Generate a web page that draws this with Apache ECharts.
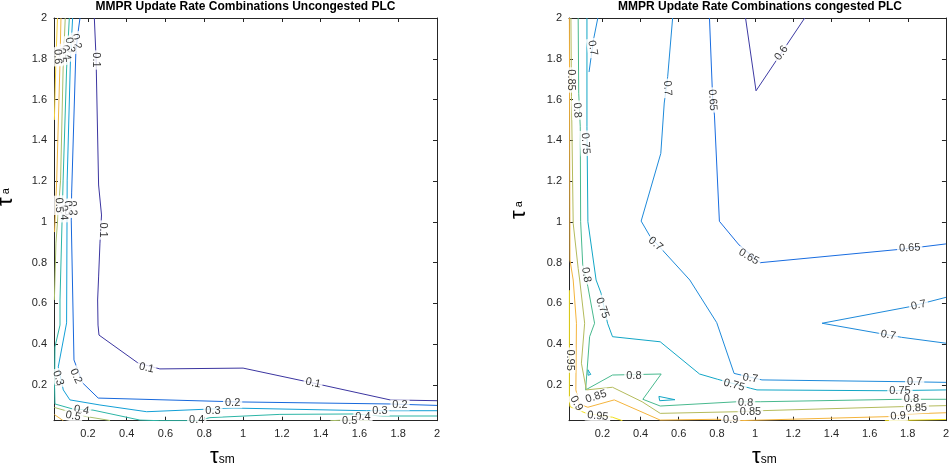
<!DOCTYPE html>
<html><head><meta charset="utf-8">
<script src="https://cdn.jsdelivr.net/npm/echarts@6/dist/echarts.min.js"></script>
<style>html,body{margin:0;padding:0;background:#fff}#c{width:952px;height:475px}</style>
</head><body><div id="c"></div>
<script>
// ---------- axis ticks ----------
const xTicks = [0.2,0.4,0.6,0.8,1,1.2,1.4,1.6,1.8,2];
const yTicks = [0.2,0.4,0.6,0.8,1,1.2,1.4,1.6,1.8,2];
const axisMin = 0.025, axisMax = 2;

const titleLeft = 'MMPR Update Rate Combinations Uncongested PLC';
const titleRight = 'MMPR Update Rate Combinations congested PLC';

// ---------- LEFT: uncongested contour lines [tau_sm, tau_a] ----------
const U01 = [[0.233,2],[0.242,1.80],[0.255,1.181],[0.270,1.034],[0.262,0.896],[0.255,0.730],[0.250,0.617],[0.252,0.494],[0.257,0.445],[0.458,0.308],[0.571,0.279],[1.0,0.283],[1.36,0.210],[1.758,0.127],[2,0.123]];
const U02 = [[0.159,2],[0.152,1.951],[0.138,1.843],[0.116,1.142],[0.114,1.009],[0.128,0.323],[0.173,0.210],[0.253,0.136],[0.984,0.117],[1.757,0.107],[2,0.100]];
const U03 = [[0.121,2],[0.110,1.80],[0.093,1.205],[0.090,0.505],[0.047,0.289],[0.073,0.176],[0.107,0.127],[0.262,0.102],[0.503,0.069],[0.948,0.087],[1.637,0.074],[2,0.074]];
const U04 = [[0.104,2],[0.090,1.75],[0.072,1.205],[0.056,0.617],[0.056,0.494],[0.030,0.387],[0.028,0.20],[0.030,0.107],[0.123,0.082],[0.226,0.077],[0.468,0.028],[0.571,0.025],[0.761,0.025],[0.829,0.040],[1.190,0.056],[1.567,0.058],[1.722,0.048],[2,0.048]];
const U05a = [[0.083,2],[0.072,1.75],[0.059,1.205],[0.035,0.896],[0.027,0.617]];
const U05b = [[0.027,0.09],[0.030,0.082],[0.193,0.045],[0.314,0.026]];
const U05c = [[1.45,0.025],[1.55,0.029],[1.65,0.025]];
const U06a = [[0.061,2],[0.055,1.75],[0.039,1.205],[0.028,0.95]];
const U06b = [[0.027,0.055],[0.073,0.025]];
const U07 = [[0.043,2],[0.035,1.80],[0.027,1.5]];
const uLines = [[0.1,U01],[0.2,U02],[0.3,U03],[0.4,U04],[0.5,U05a],[0.5,U05b],[0.5,U05c],[0.6,U06a],[0.6,U06b],[0.7,U07]];
// contour labels: [tau_sm, tau_a, text, angle]
const uLabels = [
  [0.242,1.794,'0.1',-90],[0.277,0.960,'0.1',-90],[0.502,0.284,'0.1',-12],[1.361,0.210,'0.1',-12],
  [0.140,1.885,'0.2',-78],[0.121,1.067,'0.2',-88],[0.138,0.244,'0.2',-65],[0.946,0.113,'0.2',0],[1.809,0.102,'0.2',0],
  [0.107,1.867,'0.3',-80],[0.097,1.067,'0.3',-88],[0.047,0.234,'0.3',-72],[0.845,0.073,'0.3',0],[1.706,0.074,'0.3',0],
  [0.087,1.830,'0.4',-80],[0.075,1.045,'0.4',-88],[0.167,0.077,'0.4',-10],[0.761,0.030,'0.4',0],[1.618,0.043,'0.4',0],
  [0.066,1.815,'0.5',-85],[0.051,1.082,'0.5',-88],[0.124,0.048,'0.5',-12],[1.55,0.025,'0.5',0],
  [0.044,1.810,'0.6',-88]
];

// ---------- RIGHT: congested contour lines ----------
const C060 = [[0.950,2],[1.005,1.643],[1.260,2]];
const C065 = [[0.761,2],[0.778,1.598],[0.787,1.524],[0.813,1.003],[0.916,0.887],[1.027,0.800],[1.810,0.870],[2.0,0.892]];
const C070a = [[0.176,2],[0.153,1.892],[0.130,1.735]];
const C070b = [[0.568,2],[0.542,1.712],[0.524,1.583],[0.506,1.336],[0.403,1.004],[0.451,0.927],[0.658,0.715],[0.799,0.506],[0.890,0.257],[1.036,0.225],[1.802,0.216],[2.0,0.213]];
const C070c = [[2.0,0.630],[1.810,0.584],[1.351,0.503],[1.767,0.434],[2.0,0.405]];
const C075 = [[0.119,2],[0.119,1.467],[0.124,1.001],[0.167,0.715],[0.193,0.650],[0.227,0.503],[0.253,0.437],[0.503,0.412],[0.709,0.254],[0.804,0.228],[0.976,0.184],[1.010,0.176],[1.681,0.172],[2.0,0.176]];
const C075b = [[0.124,0.275],[0.139,0.252],[0.125,0.248],[0.124,0.275]];
const C075c = [[0.496,0.144],[0.580,0.128],[0.500,0.123],[0.496,0.144]];
const C080 = [[0.073,2],[0.076,1.631],[0.084,1.467],[0.086,1.001],[0.097,0.789],[0.124,0.682],[0.159,0.503],[0.133,0.437],[0.112,0.176],[0.253,0.249],[0.508,0.254],[0.412,0.130],[0.503,0.097],[0.907,0.118],[1.027,0.118],[1.768,0.130],[2.0,0.130]];
const C085 = [[0.035,2],[0.038,1.614],[0.047,0.993],[0.073,0.772],[0.081,0.715],[0.107,0.503],[0.090,0.307],[0.116,0.176],[0.253,0.189],[0.408,0.118],[0.503,0.061],[0.907,0.069],[1.027,0.074],[1.768,0.094],[2.0,0.099]];
const C090 = [[0.027,2],[0.030,0.813],[0.047,0.715],[0.064,0.503],[0.061,0.176],[0.080,0.105],[0.124,0.091],[0.262,0.127],[0.503,0.028],[0.804,0.032],[0.907,0.025],[1.698,0.045],[1.802,0.058],[2.0,0.064]];
const C095a = [[0.027,0.665],[0.027,0.127],[0.030,0.094],[0.116,0.061],[0.253,0.042],[0.305,0.025]];
const C095b = [[1.680,0.025],[2.0,0.031]];
const cLines = [[0.6,C060],[0.65,C065],[0.7,C070a],[0.7,C070b],[0.7,C070c],[0.75,C075],[0.75,C075b],[0.75,C075c],[0.8,C080],[0.85,C085],[0.9,C090],[0.95,C095a],[0.95,C095b]];
const cLabels = [
  [1.138,1.828,'0.6',55],
  [0.777,1.598,'0.65',-86],[0.967,0.829,'0.65',-30],[1.810,0.872,'0.65',3],
  [0.149,1.853,'0.7',-80],[0.541,1.656,'0.7',-86],[0.479,0.892,'0.7',-40],[0.975,0.233,'0.7',-8],[1.836,0.216,'0.7',0],
  [1.857,0.592,'0.7',12],[1.698,0.445,'0.7',-10],
  [0.111,1.385,'0.75',-86],[0.200,0.578,'0.75',-70],[0.890,0.200,'0.75',-15],[1.759,0.172,'0.75',0],
  [0.068,1.548,'0.8',-86],[0.115,0.740,'0.8',-82],[0.365,0.246,'0.8',0],[0.950,0.113,'0.8',-3],[1.819,0.131,'0.8',0],
  [0.035,1.696,'0.85',-90],[0.167,0.143,'0.85',18],[0.976,0.069,'0.85',0],[1.845,0.086,'0.85',3],
  [0.064,0.110,'0.9',-60],[0.872,0.027,'0.9',0],[1.750,0.048,'0.9',5],
  [0.030,0.322,'0.95',-90],[0.176,0.048,'0.95',-5]
];

// ---------- styling ----------
const levelColor = {
  0.1:'#3b35a0', 0.2:'#1768dc', 0.3:'#129fd6', 0.4:'#2cb5a6', 0.5:'#a7be68', 0.6:'#eeb640', 0.7:'#f4d03c'
};
const levelColorC = {
  0.6:'#3d3aa3', 0.65:'#186ce0', 0.7:'#1e8ada', 0.75:'#12a6c6', 0.8:'#48b98e', 0.85:'#b4bb5c', 0.9:'#f4b43c', 0.95:'#f2e01a'
};
const FONT = "'Liberation Sans', Arial, Helvetica, sans-serif";
const AX = '#262626';

function fmt(v){ return String(Math.round(v*10)/10); }
function bottomX(g){
  return {type:'value', gridIndex:g, min:axisMin, max:axisMax, position:'bottom',
    axisLine:{show:true, lineStyle:{color:AX,width:1}},
    axisTick:{show:true, inside:true, length:4, customValues:xTicks, lineStyle:{color:AX}},
    axisLabel:{show:true, customValues:xTicks, formatter:fmt, color:AX, fontSize:11, fontFamily:FONT, margin:8},
    splitLine:{show:false}};
}
function topX(g){
  return {type:'value', gridIndex:g, min:axisMin, max:axisMax, position:'top',
    axisLine:{show:true, lineStyle:{color:AX,width:1}},
    axisTick:{show:true, inside:true, length:4, customValues:xTicks, lineStyle:{color:AX}},
    axisLabel:{show:false}, splitLine:{show:false}};
}
function leftY(g){
  return {type:'value', gridIndex:g, min:axisMin, max:axisMax, position:'left',
    axisLine:{show:true, lineStyle:{color:AX,width:1}},
    axisTick:{show:true, inside:true, length:4, customValues:yTicks, lineStyle:{color:AX}},
    axisLabel:{show:true, customValues:yTicks, formatter:fmt, color:AX, fontSize:11, fontFamily:FONT, margin:7},
    splitLine:{show:false}};
}
function rightY(g){
  return {type:'value', gridIndex:g, min:axisMin, max:axisMax, position:'right',
    axisLine:{show:true, lineStyle:{color:AX,width:1}},
    axisTick:{show:true, inside:true, length:4, customValues:yTicks, lineStyle:{color:AX}},
    axisLabel:{show:false}, splitLine:{show:false}};
}

const series = [];
function addLines(g, list, colors){
  list.forEach(([lv, pts]) => {
    series.push({type:'line', xAxisIndex:g, yAxisIndex:g, data:pts, showSymbol:false, symbol:'none',
      lineStyle:{color:colors[lv], width:1}, silent:true, animation:false, z:2});
  });
}
function addLabels(g, list){
  series.push({type:'scatter', xAxisIndex:g, yAxisIndex:g, symbolSize:1, itemStyle:{color:'rgba(255,255,255,0)'},
    silent:true, animation:false, z:5,
    label:{show:true, position:'inside', formatter:'{b}', color:'#000', fontSize:11, fontFamily:FONT,
      backgroundColor:'#fff', padding:[0,2]},
    labelLayout:{hideOverlap:false},
    data:list.map(l => ({name:l[2], value:[l[0], l[1]], label:{rotate:l[3]}}))});
}
addLines(0, uLines, levelColor);
addLines(1, cLines, levelColorC);
addLabels(0, uLabels);
addLabels(1, cLabels);

const chart = echarts.init(document.getElementById('c'), null, {renderer:'canvas'});
chart.setOption({
  backgroundColor:'#fff',
  animation:false,
  grid:[
    {left:54, right:515, top:18, bottom:54.3},
    {left:569, right:0.25, top:18, bottom:54.3}
  ],
  xAxis:[bottomX(0), bottomX(1), topX(0), topX(1)],
  yAxis:[leftY(0), leftY(1), rightY(0), rightY(1)],
  series:series,
  graphic:[
    {type:'text', style:{text:titleLeft, font:'bold 12px '+FONT, fill:'#000', textAlign:'center'}, x:245.5, y:1},
    {type:'text', style:{text:titleRight, font:'bold 12px '+FONT, fill:'#000', textAlign:'center'}, x:760, y:1},
    {type:'text', rotation:Math.PI/2, x:6, y:206, style:{rich:{t:{fontSize:22, fontFamily:FONT, fill:'#000'}, s:{fontSize:11, fontFamily:FONT, fill:'#000', padding:[0,0,0,3]}}, text:'{t|τ}{s|a}', fill:'#000', textVerticalAlign:'middle'}},
    {type:'text', rotation:Math.PI/2, x:519, y:219, style:{rich:{t:{fontSize:22, fontFamily:FONT, fill:'#000'}, s:{fontSize:11, fontFamily:FONT, fill:'#000', padding:[0,0,0,3]}}, text:'{t|τ}{s|a}', fill:'#000', textVerticalAlign:'middle'}},
    {type:'text', x:210, y:446, style:{rich:{t:{fontSize:22, fontFamily:FONT, fill:'#000'}, s:{fontSize:12, fontFamily:FONT, fill:'#000', padding:[6,0,0,0]}}, text:'{t|τ}{s|sm}'}},
    {type:'text', x:752, y:446, style:{rich:{t:{fontSize:22, fontFamily:FONT, fill:'#000'}, s:{fontSize:12, fontFamily:FONT, fill:'#000', padding:[6,0,0,0]}}, text:'{t|τ}{s|sm}'}}
  ]
});
</script></body></html>
